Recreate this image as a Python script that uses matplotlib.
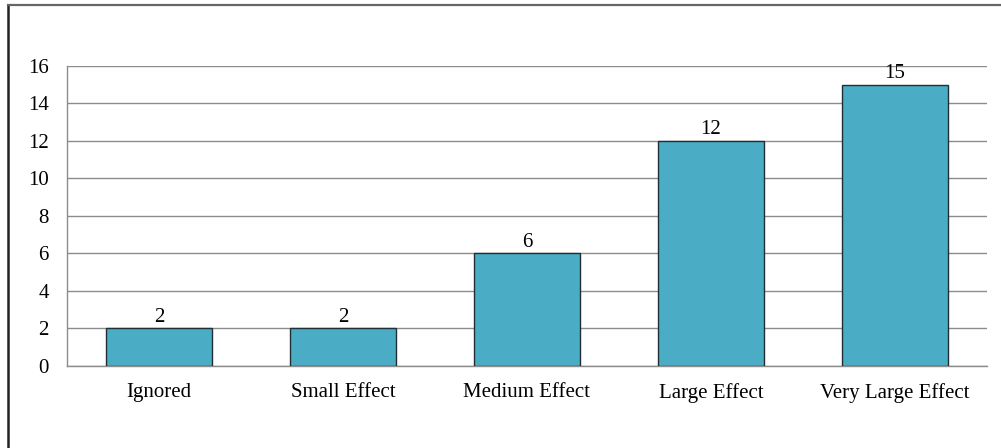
import matplotlib
matplotlib.use("Agg")
import matplotlib.pyplot as plt
from matplotlib.lines import Line2D

# Chart data
categories = ["Ignored", "Small Effect", "Medium Effect", "Large Effect", "Very Large Effect"]
counts = [2, 2, 6, 12, 15]
y_ticks = [0, 2, 4, 6, 8, 10, 12, 14, 16]

plt.rcParams["font.family"] = ["Liberation Serif", "DejaVu Serif"]

fig = plt.figure(figsize=(10.01, 4.48), dpi=100)
ax = fig.add_axes([0.0669, 0.183, 0.919, 0.670])

x = range(len(categories))
bars = ax.bar(x, counts, width=0.576, color="#4BACC6", edgecolor="#1f2f33",
              linewidth=1.0, zorder=3)

# Value labels above bars
for b, v in zip(bars, counts):
    ax.text(b.get_x() + b.get_width() / 2, v + 0.1, str(v),
            ha="center", va="bottom", fontsize=15, color="black")

ax.set_xlim(-0.5, len(categories) - 0.5)
ax.set_ylim(0, 16)
ax.set_yticks(y_ticks)
ax.set_xticks(list(x))
ax.set_xticklabels(categories)
ax.tick_params(axis="both", length=0, labelsize=15, colors="black")
ax.tick_params(axis="x", pad=12)
ax.tick_params(axis="y", pad=13)

ax.yaxis.grid(True, color="#8c8c8c", linewidth=1.0, zorder=0)
ax.set_axisbelow(True)
for side in ["top", "right"]:
    ax.spines[side].set_visible(False)
for side in ["left", "bottom"]:
    ax.spines[side].set_color("#8c8c8c")
    ax.spines[side].set_linewidth(1.0)

# Outer frame (left and top edges visible)
fig.add_artist(Line2D([0.0075, 0.0075], [0, 0.989], transform=fig.transFigure,
                      color="#222222", linewidth=1.8))
fig.add_artist(Line2D([0.0075, 1.0], [0.989, 0.989], transform=fig.transFigure,
                      color="#666666", linewidth=1.6))

plt.savefig("out.png", dpi=100)
